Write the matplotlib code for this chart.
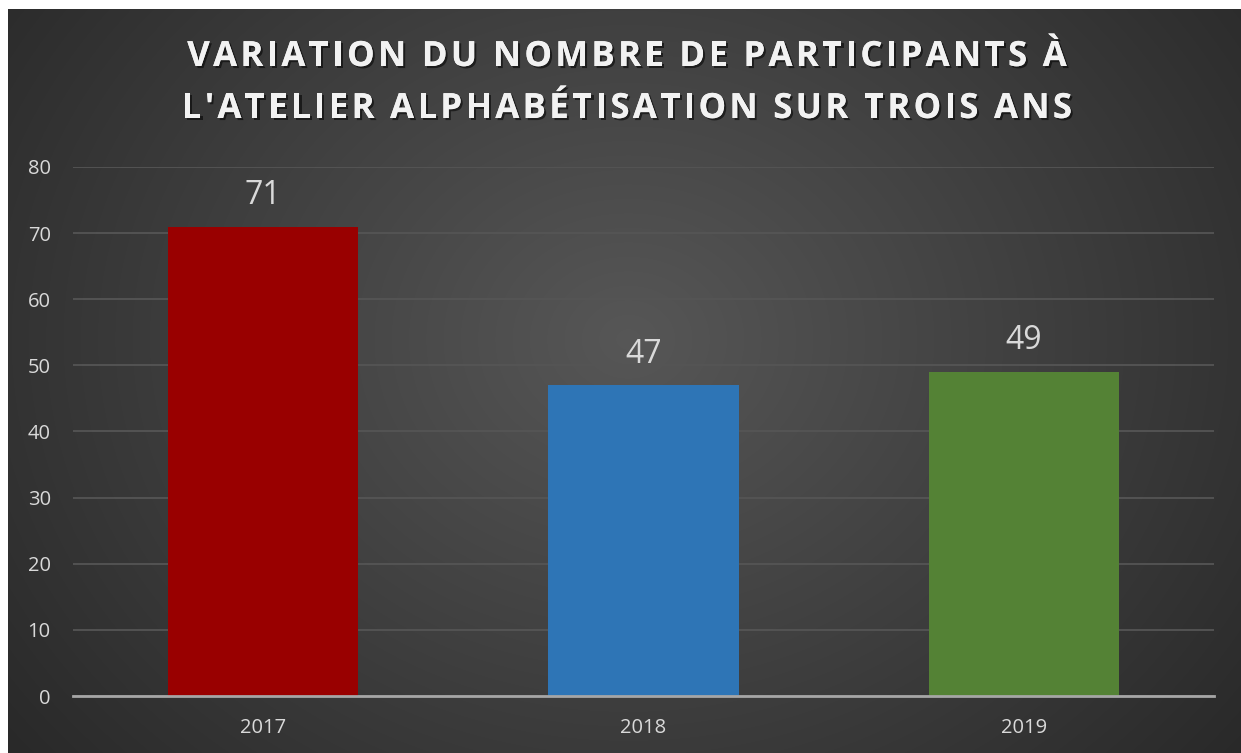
import numpy as np
import matplotlib
matplotlib.use("Agg")
import matplotlib.pyplot as plt
import matplotlib.patheffects as pe

# données
annees = ["2017", "2018", "2019"]
participants = [71, 47, 49]
couleurs = ["#990000", "#2E75B6", "#548235"]
graduations = [0, 10, 20, 30, 40, 50, 60, 70, 80]
titre = ["VARIATION DU NOMBRE DE PARTICIPANTS À",
         "L'ATELIER ALPHABÉTISATION SUR TROIS ANS"]

W, H = 1241, 753
fig = plt.figure(figsize=(W / 100, H / 100), dpi=100)
fig.patch.set_facecolor("white")

# fond sombre avec dégradé radial
bg = fig.add_axes([8 / W, 0, 1 - 8 / W, (H - 9) / H])
yy, xx = np.mgrid[0:744, 0:1233]
cx, cy = 620, 330
r = np.sqrt(((xx - cx) / 620) ** 2 + ((yy - cy) / 520) ** 2)
r = np.clip(r / 1.35, 0, 1)
g = 0.34 - (0.34 - 0.15) * r
bg.imshow(np.dstack([g, g, g]), aspect="auto", interpolation="bilinear")
bg.axis("off")

ax = fig.add_axes([73 / W, (H - 696) / H, (1214 - 73) / W, (696 - 167) / H])
ax.set_facecolor("none")
x = np.arange(len(annees))
bars = ax.bar(x, participants, width=0.5, color=couleurs, zorder=3)

for xi, v in zip(x, participants):
    ax.text(xi, v + 2.2, str(v), ha="center", va="bottom", fontsize=23,
            color="#d9d9d9", family="Open Sans")

ax.set_xlim(-0.5, 2.5)
ax.set_ylim(0, 80)
ax.set_yticks(graduations)
ax.set_xticks(x)
ax.set_xticklabels(annees)
ax.grid(axis="y", color="#555555", linewidth=1.3, zorder=0)
ax.tick_params(axis="both", length=0, colors="#d9d9d9", labelsize=14.5)
ax.tick_params(axis="y", pad=16)
ax.tick_params(axis="x", pad=16)
for lab in ax.get_xticklabels() + ax.get_yticklabels():
    lab.set_family("Open Sans")
for s in ["top", "right", "left"]:
    ax.spines[s].set_visible(False)
ax.spines["bottom"].set_color("#a6a6a6")
ax.spines["bottom"].set_linewidth(2)
ax.spines["bottom"].set_zorder(4)

# titre avec espacement des lettres (caractère par caractère)
renderer = fig.canvas.get_renderer()
props = dict(fontsize=25, fontweight="bold", family="Open Sans")
effets = [pe.withSimplePatchShadow(offset=(1.5, -1.5), shadow_rgbFace="black", alpha=0.55),
          pe.Normal()]


def largeur(s):
    t = fig.text(0, 0, s, **props)
    w = t.get_window_extent(renderer).width
    t.remove()
    return w


ref = largeur("HH")
espacement = 3.3
for ligne, yc in zip(titre, [57, 109]):
    ws = [largeur("H" + c + "H") - ref for c in ligne]
    total = sum(ws) + espacement * (len(ligne) - 1)
    xpos = 627 - total / 2
    for c, w in zip(ligne, ws):
        t = fig.text(xpos / W, 1 - yc / H, c, ha="left", va="center",
                     color="#f2f2f2", **props)
        t.set_path_effects(effets)
        xpos += w + espacement

fig.savefig("out.png", dpi=100, facecolor=fig.get_facecolor())
